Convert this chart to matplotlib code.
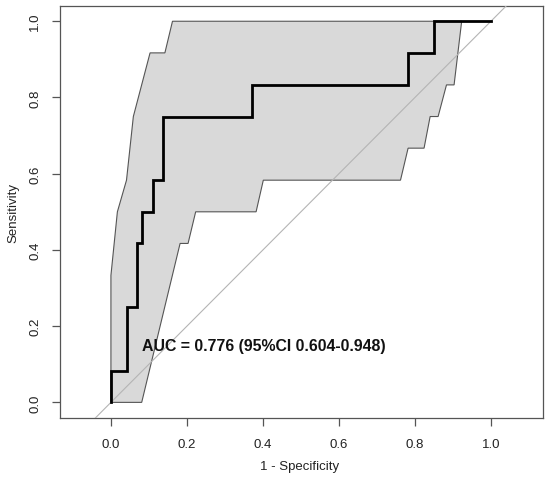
import matplotlib.pyplot as plt

plt.rcParams["font.family"] = ["Liberation Sans", "DejaVu Sans"]

# ROC curve (1 - specificity, sensitivity)
roc_fpr = [0.0, 0.0, 0.041, 0.041, 0.069, 0.069, 0.083, 0.083, 0.110, 0.110,
           0.138, 0.138, 0.372, 0.372, 0.782, 0.782, 0.851, 0.851, 1.0]
roc_tpr = [0.0, 0.083, 0.083, 0.250, 0.250, 0.417, 0.417, 0.500, 0.500, 0.583,
           0.583, 0.750, 0.750, 0.833, 0.833, 0.917, 0.917, 1.0, 1.0]

# 95% CI band of sensitivity: upper edge (left side), lower edge (right side)
ci_upper_x = [0.0, 0.0, 0.017, 0.041, 0.059, 0.103, 0.142, 0.162]
ci_upper_y = [0.0, 0.333, 0.500, 0.583, 0.750, 0.917, 0.917, 1.0]
ci_lower_x = [0.923, 0.903, 0.883, 0.861, 0.840, 0.824, 0.782, 0.762,
              0.401, 0.382, 0.223, 0.203, 0.182, 0.081]
ci_lower_y = [1.0, 0.833, 0.833, 0.750, 0.750, 0.667, 0.667, 0.583,
              0.583, 0.500, 0.500, 0.417, 0.417, 0.0]

auc_text = "AUC = 0.776 (95%CI 0.604-0.948)"
ticks = [0.0, 0.2, 0.4, 0.6, 0.8, 1.0]
tick_labels = ["0.0", "0.2", "0.4", "0.6", "0.8", "1.0"]

fig = plt.figure(figsize=(5.5, 4.81), dpi=100)
ax = fig.add_axes([60 / 550, 62 / 481, 483 / 550, 412 / 481])

xlim = (-0.134, 1.137)
ylim = (-0.041, 1.040)

# chance diagonal
ax.plot([-0.2, 1.2], [-0.2, 1.2], color="#b4b4b4", lw=0.8, zorder=3)

band_x = ci_upper_x + ci_lower_x
band_y = ci_upper_y + ci_lower_y
ax.fill(band_x, band_y, facecolor="#d9d9d9", edgecolor="#555555", lw=0.8, zorder=1)

ax.plot(roc_fpr, roc_tpr, color="black", lw=2.0, zorder=4,
        solid_joinstyle="miter")

ax.text(0.082, 0.150, auc_text, fontsize=11.4, fontweight="bold", color="#111111",
        ha="left", va="center", zorder=5)

ax.set_xlim(xlim)
ax.set_ylim(ylim)
ax.set_xticks(ticks)
ax.set_xticklabels(tick_labels)
ax.set_yticks(ticks)
ax.set_yticklabels(tick_labels, rotation=90, va="center")
ax.tick_params(length=6, width=0.9, color="#555555", labelsize=9.5,
               labelcolor="#222222")
ax.tick_params(axis="x", pad=8.5)
ax.tick_params(axis="y", pad=7.5)

for sp in ax.spines.values():
    sp.set_color("#555555")
    sp.set_linewidth(0.9)

ax.set_xlabel("1 - Specificity", fontsize=9.5, color="#222222")
ax.set_ylabel("Sensitivity", fontsize=9.5, color="#222222")
ax.xaxis.set_label_coords(0.497, -0.102)
ax.yaxis.set_label_coords(-0.083, 0.5)

fig.savefig("out.png", dpi=100)
